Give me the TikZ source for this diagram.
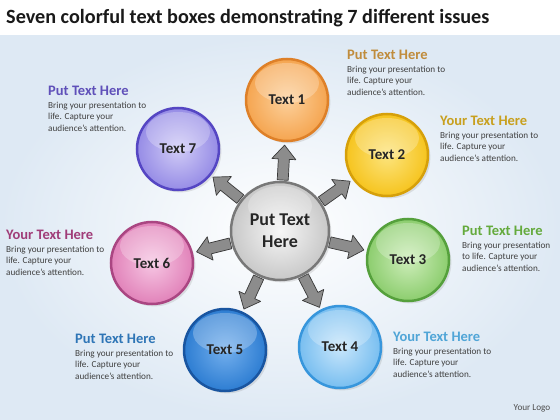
\documentclass[tikz,border=0pt]{standalone}
\usepackage{fontspec}
\setmainfont{Carlito}
\usetikzlibrary{
  backgrounds,
  calc,
  positioning,
  shadows,
}
\definecolor{orng}{RGB}{245, 165, 80}
\definecolor{orngdark}{RGB}{222, 128, 40}
\definecolor{ornglight}{RGB}{252, 208, 155}
\definecolor{yelw}{RGB}{246, 196, 30}
\definecolor{yelwdark}{RGB}{214, 160, 10}
\definecolor{yelwlight}{RGB}{252, 228, 125}
\definecolor{grn}{RGB}{140, 205, 110}
\definecolor{grndark}{RGB}{85, 160, 60}
\definecolor{grnlight}{RGB}{205, 237, 185}
\definecolor{ltblu}{RGB}{120, 190, 240}
\definecolor{ltbludark}{RGB}{55, 150, 220}
\definecolor{ltblulight}{RGB}{200, 230, 251}
\definecolor{blu}{RGB}{45, 125, 210}
\definecolor{bludark}{RGB}{25, 85, 160}
\definecolor{blulight}{RGB}{115, 175, 237}
\definecolor{pnk}{RGB}{225, 130, 185}
\definecolor{pnkdark}{RGB}{170, 70, 130}
\definecolor{pnklight}{RGB}{246, 198, 227}
\definecolor{prpl}{RGB}{150, 140, 230}
\definecolor{prpldark}{RGB}{85, 70, 195}
\definecolor{prpllight}{RGB}{208, 203, 246}
\definecolor{gry}{RGB}{200, 200, 200}
\definecolor{grydark}{RGB}{120, 120, 120}
\definecolor{grylight}{RGB}{246, 246, 246}
\definecolor{hd1}{RGB}{192, 140, 60}
\definecolor{hd2}{RGB}{200, 160, 30}
\definecolor{hd3}{RGB}{100, 170, 60}
\definecolor{hd4}{RGB}{80, 165, 215}
\definecolor{hd5}{RGB}{46, 117, 182}
\definecolor{hd6}{RGB}{160, 60, 120}
\definecolor{hd7}{RGB}{95, 80, 185}
\definecolor{bgblue}{RGB}{222, 233, 244}
\newcommand\titlefont{\fontsize{20.2}{24}\selectfont\bfseries}
\newcommand\discfont{\fontsize{15}{18}\selectfont\bfseries}
\newcommand\hubfont{\fontsize{18}{22}\selectfont\bfseries}
\newcommand\headfont{\fontsize{14.5}{17}\selectfont\bfseries}
\newcommand\notefont{\fontsize{9.2}{11.5}\selectfont}
\tikzstyle{disc} = [
  circle,
  draw,
  line width=2.5pt,
  minimum size=82pt,
  inner sep=0pt,
  font=\discfont,
  text=black!85,
  drop shadow={opacity=.2},
  path picture={\fill[white, opacity=.25] ([yshift=-24pt]path picture bounding box.north) ellipse [x radius=32pt, y radius=20pt];},
]
\tikzstyle{hub} = [
  disc,
  minimum size=98pt,
  font=\hubfont,
  align=center,
  draw=grydark,
  inner color=grylight,
  outer color=gry,
]
\tikzset{tone/.style={draw=#1dark, inner color=#1light, outer color=#1}}
\tikzstyle{head} = [inner sep=0pt, font=\headfont, anchor=base west]
\tikzstyle{note} = [inner sep=0pt, font=\notefont, align=left, text=black!75]
\tikzstyle{blockarrow} = [
  fill=gray!90,
  draw=gray!45!black,
  line width=.7pt,
  line join=round,
]

\begin{document}
\begin{tikzpicture}[x=1pt, y=-1pt]
  \useasboundingbox (0,0) rectangle (560,420);
  \node [anchor=west, inner sep=0pt, font=\titlefont, text=black!90] (title) at (6,18)
    {Seven colorful text boxes demonstrating 7 different issues};

  % hub and the seven discs
  \node [hub] (hub) at (280,231) {Put Text\\Here};
  \node [disc, tone=orng] (t1) at (287,100) {Text 1};
  \node [disc, tone=yelw] (t2) at (387,155) {Text 2};
  \node [disc, tone=grn] (t3) at (408,260) {Text 3};
  \node [disc, tone=ltblu] (t4) at (340,347) {Text 4};
  \node [disc, tone=blu] (t5) at (225,350) {Text 5};
  \node [disc, tone=pnk] (t6) at (152,263) {Text 6};
  \node [disc, tone=prpl] (t7) at (178,149) {Text 7};

  % captions
  \node [head, text=hd1] (h1) at (347,59.5) {Put Text Here};
  \node [note, below=6pt of h1.base west, anchor=north west] (n1)
    {Bring your presentation to\\life. Capture your\\audience's attention.};
  \node [head, text=hd2] (h2) at (440,125.5) {Your Text Here};
  \node [note, below=6pt of h2.base west, anchor=north west] (n2)
    {Bring your presentation to\\life. Capture your\\audience's attention.};
  \node [head, text=hd3] (h3) at (462,235.5) {Put Text Here};
  \node [note, below=6pt of h3.base west, anchor=north west] (n3)
    {Bring your presentation\\to life. Capture your\\audience's attention.};
  \node [head, text=hd4] (h4) at (393,341.5) {Your Text Here};
  \node [note, below=6pt of h4.base west, anchor=north west] (n4)
    {Bring your presentation to\\life. Capture your\\audience's attention.};
  \node [head, text=hd5] (h5) at (75,343.5) {Put Text Here};
  \node [note, below=6pt of h5.base west, anchor=north west] (n5)
    {Bring your presentation to\\life. Capture your\\audience's attention.};
  \node [head, text=hd6] (h6) at (6,239.5) {Your Text Here};
  \node [note, below=6pt of h6.base west, anchor=north west] (n6)
    {Bring your presentation to\\life. Capture your\\audience's attention.};
  \node [head, text=hd7] (h7) at (48,95.5) {Put Text Here};
  \node [note, below=6pt of h7.base west, anchor=north west] (n7)
    {Bring your presentation to\\life. Capture your\\audience's attention.};

  \node [inner sep=0pt, font=\notefont, text=black!70] (logo) at (532,408) {Your Logo};

  \begin{scope}[on background layer]
    \fill [white] (0,0) rectangle (560,420);
    \shade [inner color=white, outer color=bgblue] (0,36) rectangle (560,420);
    % block arrows from the hub
    \foreach \i in {1,...,7} {
      \path ($(hub)!51pt!(t\i)$) coordinate (as)
            ($(hub)!72pt!(t\i)$) coordinate (ab)
            ($(hub)!86pt!(t\i)$) coordinate (at);
      \draw [blockarrow] ($(as)!5.5pt!90:(t\i)$) -- ($(ab)!5.5pt!90:(t\i)$)
        -- ($(ab)!12pt!90:(t\i)$) -- (at) -- ($(ab)!12pt!-90:(t\i)$)
        -- ($(ab)!5.5pt!-90:(t\i)$) -- ($(as)!5.5pt!-90:(t\i)$) -- cycle;
    }
  \end{scope}
\end{tikzpicture}
\end{document}
